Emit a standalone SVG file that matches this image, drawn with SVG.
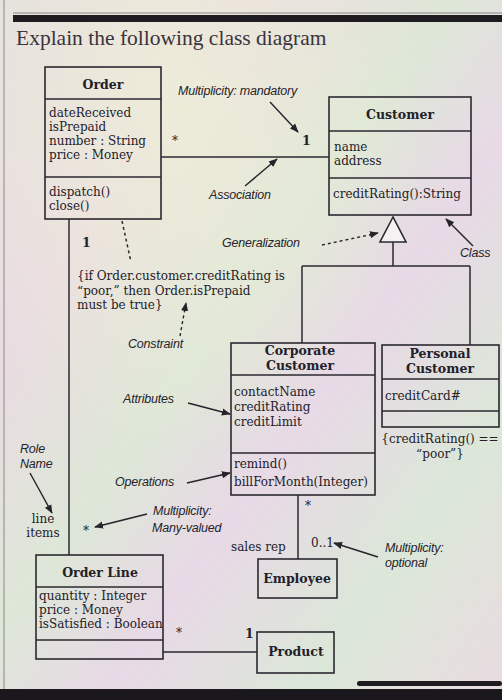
<svg xmlns="http://www.w3.org/2000/svg" width="502" height="700" viewBox="0 0 502 700">
<defs>
<linearGradient id="bg" x1="0" y1="0" x2="1" y2="1">
<stop offset="0" stop-color="#e4dfdf"/>
<stop offset="0.25" stop-color="#eadbe2"/>
<stop offset="0.45" stop-color="#dde7d7"/>
<stop offset="0.6" stop-color="#e8d9e6"/>
<stop offset="0.8" stop-color="#dbe7d8"/>
<stop offset="1" stop-color="#eadbe1"/>
</linearGradient>
<radialGradient id="glow" cx="0.35" cy="0.15" r="0.5">
<stop offset="0" stop-color="#eef0d6" stop-opacity="0.8"/>
<stop offset="1" stop-color="#eef0d6" stop-opacity="0"/>
</radialGradient>
<marker id="ah" viewBox="0 0 10 10" refX="9" refY="5" markerWidth="9" markerHeight="9" markerUnits="userSpaceOnUse" orient="auto">
<path d="M0,1 L10,5 L0,9 Z" fill="#26232b"/>
</marker>
</defs>
<style>
.box{fill:none;stroke:#2b2830;stroke-width:1.6}
.sep{stroke:#2b2830;stroke-width:1.4}
.ln{stroke:#2b2830;stroke-width:1.5;fill:none}
.t{font-family:"DejaVu Serif","Liberation Serif",serif;font-size:12px;fill:#232029}
.b{font-weight:bold;font-size:12.5px}
.c{text-anchor:middle}
.lab{font-family:"Liberation Sans",Arial,sans-serif;font-style:italic;font-size:12.5px;fill:#26232b;letter-spacing:-0.2px}
.arr{stroke:#26232b;stroke-width:1.4;fill:none;marker-end:url(#ah)}
.dash{stroke-dasharray:3,3}
</style>
<rect width="502" height="700" fill="url(#bg)"/>
<rect width="502" height="700" fill="url(#glow)"/>
<line x1="4" y1="0" x2="4" y2="690" stroke="#9a969a" stroke-width="1.2"/>
<line x1="13" y1="13" x2="502" y2="13" stroke="#8a868a" stroke-width="1"/>
<rect x="13" y="15" width="489" height="7" fill="#1e1c20"/>
<text x="16" y="45" font-family="'Liberation Serif','Times New Roman',serif" font-size="21.5" fill="#3a3340">Explain the following class diagram</text>

<g id="connectors">
<line class="ln" x1="161" y1="157" x2="329" y2="157"/>
<line class="ln" x1="69" y1="219" x2="69" y2="555"/>
<path class="ln" d="M393,242 V266 M302,266 H470 M302,266 V343 M470,266 V345"/>
<polygon points="393,217 380,242 406,242" fill="#f4f2f2" stroke="#2b2830" stroke-width="1.6"/>
<line class="ln" x1="298" y1="495" x2="298" y2="559"/>
<line class="ln" x1="163" y1="652" x2="257" y2="652"/>
<line class="ln dash" x1="122" y1="221" x2="131" y2="262"/>
</g>

<g id="order">
<rect class="box" x="45" y="67" width="116" height="152"/>
<line class="sep" x1="45" y1="99" x2="161" y2="99"/>
<line class="sep" x1="45" y1="177" x2="161" y2="177"/>
<text class="t b c" x="103" y="89">Order</text>
<text class="t" x="49" y="117">dateReceived</text>
<text class="t" x="49" y="131">isPrepaid</text>
<text class="t" x="49" y="145">number : String</text>
<text class="t" x="49" y="159">price : Money</text>
<text class="t" x="49" y="196">dispatch()</text>
<text class="t" x="49" y="210">close()</text>
</g>

<g id="customer">
<rect class="box" x="329" y="97" width="142" height="118"/>
<line class="sep" x1="329" y1="131" x2="471" y2="131"/>
<line class="sep" x1="329" y1="178" x2="471" y2="178"/>
<text class="t b c" x="400" y="119">Customer</text>
<text class="t" x="334" y="151">name</text>
<text class="t" x="334" y="165">address</text>
<text class="t" x="333" y="198">creditRating():String</text>
</g>

<g id="corporate-customer">
<rect class="box" x="231" y="343" width="144" height="152"/>
<line class="sep" x1="231" y1="375" x2="375" y2="375"/>
<line class="sep" x1="231" y1="453" x2="375" y2="453"/>
<text class="t b c" x="300" y="355">Corporate</text>
<text class="t b c" x="300" y="370">Customer</text>
<text class="t" x="234" y="396">contactName</text>
<text class="t" x="234" y="411">creditRating</text>
<text class="t" x="234" y="426">creditLimit</text>
<text class="t" x="234" y="468">remind()</text>
<text class="t" x="234" y="486">billForMonth(Integer)</text>
</g>

<g id="personal-customer">
<rect class="box" x="382" y="345" width="117" height="82"/>
<line class="sep" x1="382" y1="379" x2="499" y2="379"/>
<line class="sep" x1="382" y1="411" x2="499" y2="411"/>
<text class="t b c" x="440" y="358">Personal</text>
<text class="t b c" x="440" y="373">Customer</text>
<text class="t" x="385" y="400">creditCard#</text>
</g>

<g id="employee">
<rect class="box" x="258" y="559" width="79" height="39"/>
<text class="t b c" x="297" y="583">Employee</text>
</g>

<g id="product">
<rect class="box" x="257" y="632" width="77" height="41"/>
<text class="t b c" x="296" y="656">Product</text>
</g>

<g id="order-line">
<rect class="box" x="36" y="555" width="127" height="104"/>
<line class="sep" x1="36" y1="587" x2="163" y2="587"/>
<line class="sep" x1="36" y1="640" x2="163" y2="640"/>
<text class="t b c" x="100" y="577">Order Line</text>
<text class="t" x="39" y="600">quantity : Integer</text>
<text class="t" x="39" y="614">price : Money</text>
<text class="t" x="39" y="628">isSatisfied : Boolean</text>
</g>

<g id="constraint">
<text class="t" x="77" y="280">{if Order.customer.creditRating is</text>
<text class="t" x="77" y="294.5">“poor,” then Order.isPrepaid</text>
<text class="t" x="77" y="309">must be true}</text>
<text class="t" x="440" y="443" text-anchor="middle">{creditRating() ==</text>
<text class="t" x="440" y="458" text-anchor="middle">“poor”}</text>
</g>

<g id="multiplicities">
<text class="t" x="172" y="145">*</text>
<text class="t b" x="302" y="145">1</text>
<text class="t b" x="82" y="247">1</text>
<text class="t" x="83" y="535">*</text>
<text class="t" x="305" y="510">*</text>
<text class="t" x="311" y="547">0..1</text>
<text class="t" x="231" y="551">sales rep</text>
<text class="t" x="176" y="637">*</text>
<text class="t b" x="245" y="638">1</text>
<text class="t c" x="43" y="523">line</text>
<text class="t c" x="43" y="537">items</text>
</g>

<g id="annotations">
<text class="lab" x="178" y="95">Multiplicity: mandatory</text>
<line class="arr" x1="270" y1="102" x2="298" y2="132"/>
<text class="lab" x="209" y="199">Association</text>
<line class="arr" x1="245" y1="186" x2="277" y2="159"/>
<text class="lab" x="222" y="247">Generalization</text>
<line class="arr dash" x1="322" y1="245" x2="378" y2="233"/>
<text class="lab" x="460" y="257">Class</text>
<line class="arr" x1="473" y1="246" x2="446" y2="219"/>
<text class="lab" x="128" y="348">Constraint</text>
<line class="arr dash" x1="180" y1="336" x2="186" y2="303"/>
<text class="lab" x="123" y="403">Attributes</text>
<line class="arr" x1="188" y1="403" x2="230" y2="414"/>
<text class="lab" x="115" y="486">Operations</text>
<line class="arr" x1="187" y1="483" x2="230" y2="473"/>
<text class="lab" x="20" y="453">Role</text>
<text class="lab" x="20" y="468">Name</text>
<line class="arr" x1="30" y1="473" x2="52" y2="513"/>
<text class="lab" x="153" y="515">Multiplicity:</text>
<text class="lab" x="152" y="532">Many-valued</text>
<line class="arr" x1="147" y1="514" x2="95" y2="527"/>
<text class="lab" x="385" y="552">Multiplicity:</text>
<text class="lab" x="385" y="567">optional</text>
<line class="arr" x1="378" y1="557" x2="334" y2="543"/>
</g>

<rect x="357" y="681" width="145" height="5" rx="2.5" fill="#1e1c20"/>
<rect x="0" y="689" width="502" height="11" fill="#1a181c"/>
</svg>
